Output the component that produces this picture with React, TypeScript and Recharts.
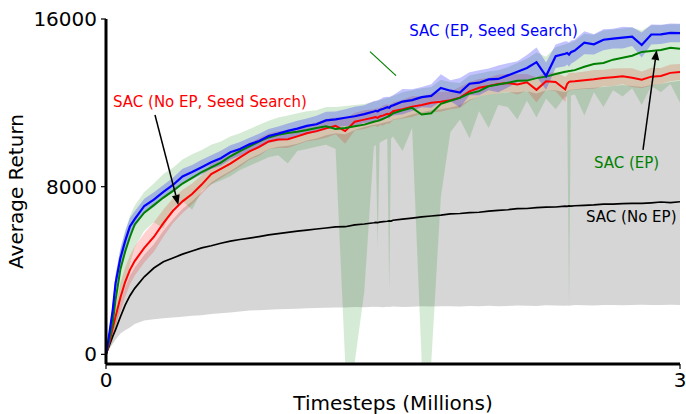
import React from 'react'
import { ComposedChart, Area, Line, XAxis, YAxis, ReferenceLine, ReferenceDot } from 'recharts'

// timesteps in millions
const steps = [
  0, 0.01, 0.02, 0.035, 0.05, 0.075, 0.1, 0.125, 0.15, 0.2,
  0.25, 0.3, 0.35, 0.4, 0.45, 0.5, 0.55, 0.6, 0.65, 0.7,
  0.75, 0.8, 0.85, 0.9, 0.95, 1.0, 1.05, 1.1, 1.15, 1.2,
  1.25, 1.3, 1.35, 1.4, 1.41, 1.42, 1.43, 1.45, 1.47, 1.48, 1.49, 1.5,
  1.55, 1.6, 1.65, 1.7, 1.75, 1.8, 1.85, 1.9, 1.95, 2.0,
  2.05, 2.1, 2.15, 2.2, 2.25, 2.3, 2.35, 2.4, 2.41, 2.42, 2.43,
  2.45, 2.5, 2.55, 2.6, 2.65, 2.7, 2.75, 2.8, 2.85, 2.9, 2.95, 3.0,
]

// SAC (No EP) - black
const sacNoEp = [
  0, 250, 500, 850, 1180, 1780, 2350, 2800, 3150, 3700,
  4120, 4420, 4600, 4780, 4930, 5080, 5180, 5300, 5400, 5480,
  5545, 5620, 5700, 5760, 5820, 5880, 5930, 5980, 6030, 6080,
  6090, 6180, 6220, 6280, 6300, 6290, 6310, 6330, 6350, 6370, 6360, 6400,
  6450, 6500, 6560, 6600, 6640, 6700, 6720, 6760, 6780, 6830,
  6870, 6900, 6950, 6960, 7000, 7020, 7030, 7070, 7060, 7080, 7075,
  7090, 7110, 7130, 7170, 7170, 7190, 7200, 7200, 7230, 7270, 7240, 7280,
]
const sacNoEpLow = [
  0, 150, 300, 500, 700, 1000, 1150, 1280, 1450, 1620,
  1680, 1720, 1760, 1800, 1840, 1870, 1920, 1960, 2000, 2050,
  2090, 2110, 2130, 2150, 2170, 2180, 2200, 2210, 2220, 2240,
  2230, 2260, 2250, 2270, 2260, 2270, 2255, 2250, 2270, 2265, 2275, 2280,
  2260, 2270, 2290, 2280, 2300, 2290, 2280, 2310, 2300, 2320,
  2300, 2310, 2330, 2320, 2310, 2340, 2330, 2320, 2330, 2325, 2335,
  2350, 2340, 2330, 2350, 2360, 2340, 2350, 2370, 2350, 2360, 2370, 2360,
]
const sacNoEpHigh = [
  0, 300, 600, 1100, 1600, 2450, 3200, 3750, 4150, 4750,
  5250, 5900, 6450, 6950, 7300, 7750, 8200, 8500, 8750, 9050,
  9350, 9550, 9800, 9900, 9950, 10050, 10200, 10300, 10450, 10550,
  10500, 10700, 10850, 10950, 10970, 10980, 11000, 11050, 11100, 11120, 11150, 11200,
  11300, 11450, 11550, 11650, 11700, 11780, 11900, 12150, 12300, 12400,
  12450, 12500, 12500, 12550, 12450, 12600, 12600, 12500, 12550, 12600, 12620,
  12650, 12700, 12720, 12750, 12800, 12850, 12800, 12750, 12850, 12900, 13000, 13050,
]

// SAC (No EP, Seed Search) - red
const sacNoEpSeed = [
  0, 300, 650, 1250, 1800, 2700, 3450, 4030, 4450, 5080,
  5600, 6260, 6850, 7300, 7650, 8100, 8600, 8850, 9100, 9400,
  9680, 9900, 10160, 10250, 10260, 10400, 10550, 10650, 10780, 10900,
  10650, 11100, 11200, 11300, 11320, 11280, 11350, 11400, 11480, 11450, 11520, 11600,
  11700, 11820, 11900, 12000, 12050, 12120, 12250, 12550, 12720, 12800,
  12900, 12950, 12880, 12980, 12620, 13030, 13000, 12640, 12900, 13000, 13020,
  13030, 13080, 13120, 13180, 13220, 13270, 13200, 13100, 13250, 13280, 13430, 13470,
]
const sacNoEpSeedSpread = [
  0, 150, 250, 350, 450, 700, 700, 700, 700, 700,
  700, 650, 600, 550, 500, 450, 480, 450, 420, 450,
  400, 420, 380, 400, 420, 400, 380, 420, 450, 400,
  600, 420, 450, 400, 420, 450, 420, 480, 450, 460, 430, 420,
  450, 500, 420, 450, 480, 420, 500, 450, 420, 400,
  450, 420, 480, 400, 600, 420, 450, 600, 420, 430, 420,
  400, 420, 450, 400, 420, 380, 450, 400, 420, 380, 400, 380,
]

// SAC (EP) - green
const sacEp = [
  0, 400, 800, 1500, 2600, 4050, 4900, 5600, 6200, 6760,
  7120, 7480, 7800, 8150, 8420, 8700, 8920, 9150, 9450, 9700,
  9920, 10150, 10350, 10480, 10560, 10620, 10700, 10800, 10880, 10750,
  10800, 10880, 10960, 11100, 11120, 11140, 11170, 11250, 11330, 11380, 11420, 11500,
  11650, 11760, 11440, 11500, 11950, 12100, 12235, 12450, 12560, 12790,
  12870, 12960, 13050, 13060, 13180, 13250, 13380, 13480, 13500, 13520, 13530,
  13560, 13720, 13850, 13900, 14060, 14150, 14250, 14430, 14470, 14520, 14630, 14580,
]
const sacEpLow = [
  0, 150, 300, 600, 1200, 2400, 3300, 4300, 5100, 5900,
  6300, 6000, 7000, 7300, 6900, 7800, 8100, 8300, 8500, 8800,
  9000, 9200, 9400, 9500, 9100, 9700, 9800, 9900, 10000, 9800,
  -400, -400, 3000, 9900, 10000, 5100, 10100, 10200, 10300, 3000, 10300, 10400,
  9700, 10800, -400, -400, 7500, 10600, 11200, 10300, 11600, 10800,
  11900, 11800, 11200, 12100, 11300, 12200, 11700, 12300, 12300, 2230, 12350,
  12400, 11400, 12500, 11800, 12600, 12300, 12700, 11900, 12800, 12500, 12900, 12000,
]
const sacEpHigh = [
  0, 700, 1400, 2500, 3800, 5000, 5900, 6600, 7100, 7750,
  8150, 8600, 8900, 9300, 9550, 9750, 10000, 10150, 10400, 10550,
  10750, 10950, 11150, 11300, 11400, 11500, 11600, 11650, 11800, 11800,
  11850, 11900, 11950, 12050, 12080, 12100, 12120, 12180, 12230, 12260, 12280, 12330,
  12500, 12600, 12700, 12750, 13100, 13000, 12950, 13300, 13400, 13500,
  13550, 13700, 13900, 14100, 14400, 14200, 14650, 14800, 14820, 14850, 14880,
  14950, 15300, 15250, 15450, 15500, 15550, 15600, 15450, 15700, 15700, 15750, 15750,
]

// SAC (EP, Seed Search) - blue
const sacEpSeed = [
  0, 550, 1150, 2100, 3400, 4580, 5400, 6100, 6450, 7080,
  7380, 7750, 8080, 8490, 8700, 8930, 9170, 9360, 9640, 9800,
  10020, 10180, 10420, 10530, 10660, 10770, 10900, 10980, 11160, 11210,
  11290, 11360, 11460, 11590, 11620, 11600, 11660, 11720, 11790, 11760, 11850, 11880,
  12060, 12130, 12270, 12330, 12710, 12580, 12490, 12910, 12960, 13120,
  13140, 13310, 13480, 13660, 13940, 13280, 14220, 14340, 14380, 14300, 14420,
  14490, 14870, 14790, 15010, 15060, 15110, 15160, 14760, 15260, 15270, 15340, 15330,
]
const sacEpSeedSpread = [
  0, 100, 200, 300, 400, 450, 450, 400, 380, 350,
  350, 330, 350, 360, 340, 350, 330, 360, 340, 330,
  320, 350, 330, 340, 360, 380, 350, 400, 420, 380,
  400, 450, 420, 500, 480, 520, 500, 550, 500, 520, 480, 480,
  600, 520, 480, 560, 650, 500, 700, 550, 600, 520,
  640, 580, 500, 620, 700, 650, 560, 600, 550, 580, 560,
  520, 550, 480, 500, 470, 520, 450, 600, 480, 460, 450, 440,
]

const yTicks = [0, 8000, 16000]
const xTicks = [0, 3]

const data = steps.map((t, i) => ({
  t,
  black: sacNoEp[i],
  blackBand: [sacNoEpLow[i], sacNoEpHigh[i]],
  red: sacNoEpSeed[i],
  redBand: [sacNoEpSeed[i] - sacNoEpSeedSpread[i], sacNoEpSeed[i] + sacNoEpSeedSpread[i]],
  green: sacEp[i],
  greenBand: [sacEpLow[i], sacEpHigh[i]],
  blue: sacEpSeed[i],
  blueBand: [sacEpSeed[i] - sacEpSeedSpread[i], sacEpSeed[i] + sacEpSeedSpread[i]],
}))

const font = 'DejaVu Sans'

function Arrow(props: any) {
  const { x1, y1, x2, y2 } = props
  const a = Math.atan2(y2 - y1, x2 - x1)
  const len = 10
  const w = 4
  const bx = x2 - len * Math.cos(a)
  const by = y2 - len * Math.sin(a)
  const px = -Math.sin(a) * w
  const py = Math.cos(a) * w
  return (
    <g>
      <line x1={x1} y1={y1} x2={bx} y2={by} stroke="#000" strokeWidth={1.5} />
      <polygon points={`${x2},${y2} ${bx + px},${by + py} ${bx - px},${by - py}`} fill="#000" />
    </g>
  )
}

function note(text: string, color: string, anchor: string) {
  return (p: any) => (
    <text x={p.cx} y={p.cy} fill={color} fontSize={15} fontFamily={font} textAnchor={anchor}>
      {text}
    </text>
  )
}

function YLabel(p: any) {
  const vb = p.viewBox
  const cx = vb.x + 23
  const cy = vb.y + vb.height / 2
  return (
    <text x={cx} y={cy} transform={`rotate(-90, ${cx}, ${cy})`} textAnchor="middle" fontSize={20} fontFamily={font} fill="#000">
      Average Return
    </text>
  )
}

export default function App() {
  return (
    <div style={{ position: 'absolute', left: 0, top: 0, background: '#fff' }}>
      <ComposedChart width={686} height={414} data={data} margin={{ top: 19, right: 6, left: 0, bottom: 0 }}>
        <XAxis
          dataKey="t"
          type="number"
          domain={[0, 3]}
          ticks={xTicks}
          allowDataOverflow
          height={50}
          axisLine={{ stroke: '#000', strokeWidth: 3 }}
          tickLine={{ stroke: '#000', strokeWidth: 1.2 }}
          tickSize={5}
          tickMargin={4}
          tick={{ fill: '#000', fontSize: 20, fontFamily: font }}
          label={{ value: 'Timesteps (Millions)', position: 'insideBottom', offset: 4, fill: '#000', fontSize: 20, fontFamily: font }}
        />
        <YAxis
          type="number"
          domain={[-460, 16000]}
          ticks={yTicks}
          allowDataOverflow
          width={106}
          axisLine={{ stroke: '#000', strokeWidth: 3 }}
          tickLine={{ stroke: '#000', strokeWidth: 1.2 }}
          tickSize={5}
          tickMargin={4}
          tick={{ fill: '#000', fontSize: 20, fontFamily: font }}
          label={<YLabel />}
        />
        <Area type="linear" dataKey="blackBand" stroke="none" fill="#000" fillOpacity={0.16} isAnimationActive={false} dot={false} activeDot={false} />
        <Area type="linear" dataKey="redBand" stroke="none" fill="#ff0000" fillOpacity={0.18} isAnimationActive={false} dot={false} activeDot={false} />
        <Area type="linear" dataKey="greenBand" stroke="none" fill="#008000" fillOpacity={0.16} isAnimationActive={false} dot={false} activeDot={false} />
        <Area type="linear" dataKey="blueBand" stroke="none" fill="#0000ff" fillOpacity={0.24} isAnimationActive={false} dot={false} activeDot={false} />
        <Line type="linear" dataKey="black" stroke="#000" strokeWidth={1.7} dot={false} activeDot={false} isAnimationActive={false} />
        <Line type="linear" dataKey="red" stroke="#ff0000" strokeWidth={2} dot={false} activeDot={false} isAnimationActive={false} />
        <Line type="linear" dataKey="green" stroke="#008000" strokeWidth={2} dot={false} activeDot={false} isAnimationActive={false} />
        <Line type="linear" dataKey="blue" stroke="#0000ff" strokeWidth={2.2} dot={false} activeDot={false} isAnimationActive={false} />
        <ReferenceLine segment={[{ x: 1.3798, y: 14442 }, { x: 1.5157, y: 13297 }]} stroke="#008000" strokeWidth={1.2} ifOverflow="visible" />
        <ReferenceLine segment={[{ x: 0.2561, y: 11422 }, { x: 0.3779, y: 7128 }]} shape={Arrow} ifOverflow="visible" />
        <ReferenceLine segment={[{ x: 2.8066, y: 9752 }, { x: 2.878, y: 14523 }]} shape={Arrow} ifOverflow="visible" />
        <ReferenceDot x={2.025} y={15191} r={0} ifOverflow="visible" shape={note('SAC (EP, Seed Search)', '#0000ff', 'middle')} />
        <ReferenceDot x={0.0366} y={11803} r={0} ifOverflow="visible" shape={note('SAC (No EP, Seed Search)', '#ff0000', 'start')} />
        <ReferenceDot x={2.55} y={8893} r={0} ifOverflow="visible" shape={note('SAC (EP)', '#008000', 'start')} />
        <ReferenceDot x={2.509} y={6316} r={0} ifOverflow="visible" shape={note('SAC (No EP)', '#000', 'start')} />
      </ComposedChart>
    </div>
  )
}
